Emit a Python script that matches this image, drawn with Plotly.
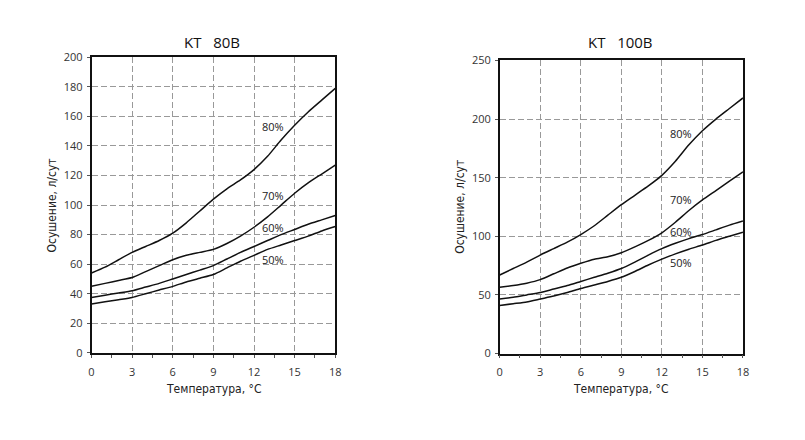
import plotly.graph_objects as go

temps = list(range(0, 19))

kt80_titles = "KT   80B"
kt80_80 = [54, 58, 63, 68, 72, 76, 81, 88, 96, 104, 111, 117, 124, 133, 144, 154, 163, 171, 179]
kt80_70 = [45, 47, 49, 51, 55, 59, 63, 66, 68, 70, 74, 79, 85, 92, 100, 108, 115, 121, 127]
kt80_60 = [37.5, 39, 40.5, 42, 44.5, 47, 50, 53, 56, 59, 63.5, 68, 72, 76, 80, 83.5, 87, 90, 93]
kt80_50 = [33, 34.5, 36, 37.5, 40, 42.5, 45, 48, 50.5, 53, 57.5, 62, 66, 70, 73, 76, 79, 82.5, 85.5]

kt100_title = "KT   100B"
kt100_80 = [67, 72.5, 78, 84, 89.5, 95, 101.5, 109, 118, 127, 135, 143, 152, 164, 178, 190, 200, 209, 218]
kt100_70 = [56.5, 58, 60, 63, 68, 73, 77, 80.5, 82.5, 86, 91, 96.5, 103, 112, 122, 131, 139, 147, 155]
kt100_60 = [46.5, 48, 50, 52, 55, 58, 61.5, 65, 68.5, 72.5, 78, 84, 89.5, 94, 98, 101.5, 105.5, 109.5, 113]
kt100_50 = [41, 42.5, 44, 46.5, 49, 52, 55.5, 58.5, 61.5, 65, 70, 75.5, 80.5, 85, 89, 92.5, 96.5, 100, 103.5]

humidity_labels = ["80%", "70%", "60%", "50%"]
kt80_label_y = [153, 106.5, 84.5, 63.5]
kt100_label_y = [188, 131, 104, 78]
label_x = 13.4

x_ticks = [0, 3, 6, 9, 12, 15, 18]
kt80_yticks = [0, 20, 40, 60, 80, 100, 120, 140, 160, 180, 200]
kt100_yticks = [0, 50, 100, 150, 200, 250]

x_title = "Температура, °C"
y_title = "Осушение, л/сут"

fig = go.Figure()

for series in [kt80_80, kt80_70, kt80_60, kt80_50]:
    fig.add_trace(go.Scatter(x=temps, y=series, mode="lines", xaxis="x", yaxis="y",
                             line=dict(color="#111", width=1.5, shape="spline", smoothing=0.6),
                             showlegend=False, hoverinfo="skip"))
for series in [kt100_80, kt100_70, kt100_60, kt100_50]:
    fig.add_trace(go.Scatter(x=temps, y=series, mode="lines", xaxis="x2", yaxis="y2",
                             line=dict(color="#111", width=1.5, shape="spline", smoothing=0.6),
                             showlegend=False, hoverinfo="skip"))

tickfont = dict(family="Open Sans", size=11, color="#333")
common_x = dict(range=[0, 18], tickvals=x_ticks, showgrid=True, gridcolor="#999",
                griddash="6px,3px", gridwidth=1, showline=True, linecolor="#111", linewidth=1.5,
                mirror=True, ticks="outside", ticklen=3, tickcolor="#555", tickwidth=1,
                tickfont=tickfont, zeroline=False, ticklabelstandoff=5,
                minor=dict(dtick=1.5, tick0=0, ticks="outside", ticklen=3, tickcolor="#555",
                           tickwidth=1, showgrid=False))
common_y = dict(showgrid=True, gridcolor="#999", griddash="6px,3px", gridwidth=1,
                showline=True, linecolor="#111", linewidth=1.5, mirror=True,
                ticks="outside", ticklen=3, tickcolor="#555", tickwidth=1,
                tickfont=tickfont, zeroline=False, ticklabelstandoff=2)

fig.update_layout(
    width=805, height=440,
    margin=dict(l=0, r=0, t=0, b=0),
    paper_bgcolor="white", plot_bgcolor="white",
    xaxis=dict(domain=[0.1112, 0.4174], anchor="y", **common_x),
    yaxis=dict(domain=[0.1886, 0.884], anchor="x", range=[0, 200], tickvals=kt80_yticks, **common_y),
    xaxis2=dict(domain=[0.624, 0.9296], anchor="y2", **common_x),
    yaxis2=dict(domain=[0.187, 0.8766], anchor="x2", range=[0, 250], tickvals=kt100_yticks, **common_y),
)

ann = []
labfont = dict(family="Open Sans", size=11, color="#222")
for t, yv in zip(humidity_labels, kt80_label_y):
    ann.append(dict(x=label_x, y=yv, xref="x", yref="y", text=t, showarrow=False, font=labfont))
for t, yv in zip(humidity_labels, kt100_label_y):
    ann.append(dict(x=label_x, y=yv, xref="x2", yref="y2", text=t, showarrow=False, font=labfont))

titlefont = dict(family="Open Sans", size=15, color="#111")
ann.append(dict(x=211 / 805, y=1 - 35 / 440, xref="paper", yref="paper", text=kt80_titles,
                showarrow=False, font=titlefont, xanchor="center", yanchor="middle"))
ann.append(dict(x=624 / 805, y=1 - 35 / 440, xref="paper", yref="paper", text=kt100_title,
                showarrow=False, font=titlefont, xanchor="center", yanchor="middle"))

axfont = dict(family="DejaVu Sans Condensed, DejaVu Sans", size=12, color="#222")
ann.append(dict(x=213 / 805, y=1 - 394 / 440, xref="paper", yref="paper", text=x_title,
                showarrow=False, font=axfont, xanchor="center", yanchor="middle"))
ann.append(dict(x=625 / 805, y=1 - 394 / 440, xref="paper", yref="paper", text=x_title,
                showarrow=False, font=axfont, xanchor="center", yanchor="middle"))
ann.append(dict(x=50 / 805, y=1 - 204 / 440, xref="paper", yref="paper", text=y_title,
                showarrow=False, font=axfont, textangle=-90, xanchor="center", yanchor="middle"))
ann.append(dict(x=462 / 805, y=1 - 206 / 440, xref="paper", yref="paper", text=y_title,
                showarrow=False, font=axfont, textangle=-90, xanchor="center", yanchor="middle"))

fig.update_layout(annotations=ann)
fig.write_html("out.html", post_script="document.body.style.margin='0';",
               config={"displayModeBar": False})
